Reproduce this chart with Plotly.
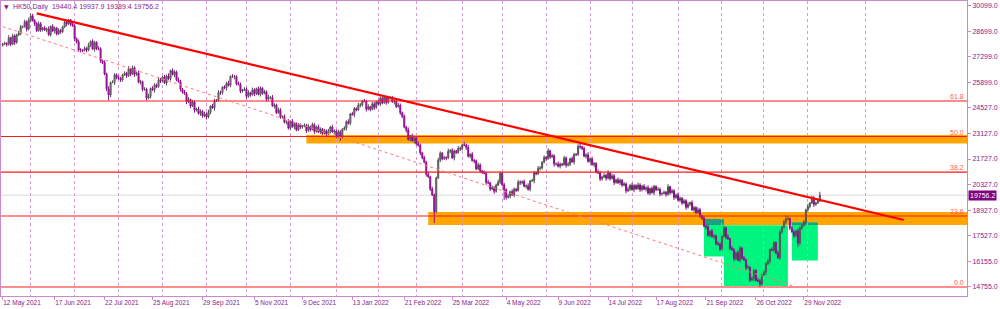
import pandas as pd
import plotly.graph_objects as go

# ---------------- data ----------------
first_day = "2021-05-12"
holidays = ["2021-10-01", "2022-02-01", "2022-04-15"]

bar_open = [
    27950, 28010, 28030, 27990, 28350, 28000, 28450, 28100, 28500, 28600,
    28950, 28960, 29220, 28820, 29300, 29540, 29280, 29130, 28740, 29110,
    28790, 28880, 28780, 28830, 28520, 28970, 28720, 28870, 28560, 28740,
    28690, 28940, 29200, 29110, 29330, 29090, 29000, 28300, 28120, 27680,
    27670, 27660, 27770, 27680, 27940, 28150, 27730, 28090, 27750, 27730,
    27090, 27000, 26360, 25560, 25220, 25910, 25910, 26330, 26160, 26120,
    26050, 26320, 26410, 26280, 26660, 26360, 26710, 26350, 26430, 25920,
    25950, 25520, 25540, 25060, 25150, 25580, 25500, 25780, 25680, 26060,
    26000, 26210, 25880, 26260, 26120, 26560, 26340, 26490, 26050, 25950,
    25540, 25390, 25300, 24850, 24980, 24620, 24840, 24400, 24460, 24210,
    24340, 24070, 24200, 24020, 24280, 24620, 24520, 24930, 24920, 25360,
    25350, 25650, 25600, 25860, 25750, 26240, 26220, 26230, 25830, 25800,
    25440, 25500, 25540, 25150, 25350, 25240, 25510, 25300, 25560, 25260,
    25600, 25320, 25400, 24990, 25100, 25100, 24630, 24680, 24260, 24410,
    24040, 24050, 23740, 23760, 23410, 23790, 23490, 23660, 23320, 23570,
    23480, 23520, 23570, 23280, 23490, 23340, 23600, 23240, 23480, 23210,
    23360, 23120, 23270, 23090, 23240, 23480, 23210, 23260, 22950, 23210,
    22940, 23350, 23410, 23760, 23680, 24190, 24150, 24480, 24410, 24670,
    24680, 24900, 24880, 24450, 24580, 24440, 24740, 24550, 24850, 24730,
    25050, 24800, 25100, 24820, 25080, 25090, 24850, 24900, 24590, 24660,
    24260, 24050, 23470, 23310, 22800, 22990, 22730, 22880, 22560, 22470,
    22060, 21800, 21550, 20900, 20760, 20090, 19760, 18850, 20700, 21670,
    22050, 21740, 21800, 21790, 22150, 22200, 21790, 22160, 22080, 22310,
    22290, 22500, 22490, 22360, 21880, 21990, 21640, 21630, 21190, 21400,
    21080, 21000, 20950, 20450, 20430, 20090, 20160, 19970, 20310, 20480,
    20950, 20320, 20050, 19640, 19690, 19950, 19770, 20080, 20010, 20460,
    20430, 20500, 20240, 20260, 20070, 20540, 20540, 20980, 20920, 21220,
    21240, 21550, 21820, 21750, 22180, 21840, 21900, 21450, 21460, 21330,
    21450, 21420, 21790, 21390, 21440, 21750, 21570, 21980, 21970, 22410,
    22400, 22300, 21880, 21960, 21600, 21740, 21420, 21480, 21030, 20970,
    20640, 20750, 20840, 20680, 20980, 20660, 20810, 20450, 20590, 20430,
    20570, 20300, 20370, 19990, 20080, 20300, 20050, 20280, 20110, 20310,
    20050, 20250, 20080, 20160, 19860, 20120, 19890, 20230, 20050, 20070,
    19820, 19850, 19910, 19800, 20220, 19890, 19990, 19630, 19770, 19480,
    19590, 19320, 19450, 19090, 19260, 19350, 18950, 19080, 18800, 18960,
    18630, 18500, 18060, 18010, 17560, 17790, 17490, 17530, 17100, 17070,
    16820, 17500, 17960, 17480, 17380, 16860, 16770, 16280, 16610, 16200,
    16870, 16320, 16220, 15790, 15820, 15120, 15200, 15640, 15110, 15070,
    14900, 15400, 15550, 16010, 16140, 16790, 16760, 17160, 16600, 16340,
    17740, 18000, 18290, 18450, 18480, 17960, 17750, 17550, 17800, 17140,
    17960, 18100, 18290, 18940, 19140, 19330, 19610, 19250, 19330, 19440.4,
]

bar_high = [
    28070, 28140, 28110, 28490, 28400, 28570, 28540, 28570, 28730, 29050,
    29020, 29330, 29300, 29440, 29680, 29660, 29370, 29200, 29240, 29210,
    28940, 28990, 28910, 28970, 29020, 29090, 28960, 28940, 28870, 28840,
    29000, 29310, 29280, 29380, 29380, 29210, 29090, 28370, 28250, 27780,
    27730, 27880, 27850, 28080, 28200, 28270, 28180, 28160, 27880, 27830,
    27150, 27110, 26440, 25700, 25960, 26030, 26420, 26400, 26290, 26220,
    26380, 26520, 26490, 26800, 26710, 26830, 26800, 26500, 26560, 26050,
    26010, 25650, 25620, 25290, 25630, 25700, 25870, 25850, 26190, 26160,
    26270, 26320, 26340, 26400, 26610, 26680, 26580, 26560, 26180, 26050,
    25600, 25500, 25380, 25120, 25030, 24960, 24930, 24530, 24590, 24440,
    24400, 24310, 24280, 24420, 24670, 24740, 25020, 25000, 25490, 25460,
    25710, 25760, 25940, 26000, 26290, 26360, 26320, 26300, 25960, 25900,
    25560, 25650, 25620, 25490, 25400, 25630, 25600, 25630, 25690, 25700,
    25660, 25510, 25480, 25240, 25150, 25220, 24770, 24750, 24540, 24510,
    24110, 24160, 23840, 23900, 23840, 23910, 23750, 23730, 23700, 23670,
    23580, 23680, 23650, 23630, 23540, 23720, 23690, 23550, 23610, 23460,
    23420, 23380, 23350, 23380, 23530, 23600, 23350, 23330, 23340, 23310,
    23410, 23520, 23840, 23900, 24240, 24310, 24570, 24550, 24800, 24780,
    24960, 25010, 24960, 24720, 24630, 24860, 24830, 24920, 24980, 25150,
    25110, 25160, 25150, 25150, 25140, 25170, 24990, 24970, 24790, 24760,
    24320, 24160, 23550, 23450, 23040, 23110, 22970, 22950, 22690, 22570,
    22120, 21910, 21630, 21040, 20810, 20210, 19850, 20770, 21800, 22150,
    22110, 21910, 21880, 22290, 22250, 22320, 22250, 22230, 22440, 22410,
    22560, 22650, 22570, 22500, 22040, 22110, 21730, 21700, 21530, 21500,
    21140, 21110, 21030, 20590, 20480, 20280, 20250, 20380, 20610, 21050,
    21010, 20430, 20130, 19830, 20000, 20070, 20170, 20150, 20590, 20560,
    20560, 20610, 20340, 20400, 20590, 20660, 21070, 21050, 21350, 21340,
    21610, 21930, 21900, 22320, 22230, 22020, 21990, 21530, 21590, 21550,
    21510, 21900, 21870, 21580, 21800, 21870, 22070, 22050, 22540, 22600,
    22460, 22410, 22040, 22100, 21790, 21860, 21570, 21550, 21160, 21070,
    20810, 20950, 20920, 21120, 21030, 20930, 20900, 20660, 20720, 20670,
    20630, 20480, 20450, 20220, 20350, 20420, 20370, 20350, 20440, 20410,
    20310, 20360, 20240, 20300, 20170, 20240, 20320, 20300, 20200, 20170,
    19910, 20020, 19990, 20360, 20270, 20110, 20080, 19840, 19900, 19690,
    19650, 19560, 19530, 19400, 19400, 19470, 19170, 19150, 19090, 19060,
    18690, 18610, 18140, 18150, 17840, 17910, 17620, 17600, 17230, 17170,
    17560, 18080, 18040, 17620, 17430, 16980, 16860, 16680, 16740, 16970,
    16930, 16430, 16300, 15960, 15870, 15320, 15730, 15710, 15240, 15170,
    15460, 15660, 16090, 16280, 16840, 16910, 17250, 17230, 16730, 17840,
    18060, 18400, 18650, 18620, 18530, 18080, 17840, 17870, 17930, 18060,
    18160, 18400, 19020, 19280, 19380, 19730, 19700, 19400, 19570, 19937.9,
]

bar_low = [
    27860, 27950, 27860, 27920, 27890, 27950, 27960, 28020, 28440, 28480,
    28860, 28900, 28690, 28750, 29190, 29230, 28990, 28660, 28680, 28670,
    28700, 28720, 28650, 28450, 28410, 28670, 28580, 28480, 28500, 28570,
    28600, 28880, 28980, 29040, 28980, 28950, 28160, 28040, 27620, 27550,
    27570, 27600, 27550, 27610, 27830, 27680, 27590, 27670, 27670, 26970,
    26910, 26300, 25430, 24950, 25110, 25860, 25770, 26080, 26060, 25930,
    25960, 26260, 26150, 26210, 26250, 26310, 26210, 26270, 25860, 25800,
    25430, 25460, 24930, 24990, 25040, 25450, 25360, 25600, 25620, 25880,
    25910, 25820, 25750, 26050, 26010, 26290, 26200, 25970, 25890, 25420,
    25300, 25240, 24720, 24780, 24510, 24570, 24260, 24320, 24150, 24090,
    23980, 24010, 23890, 23950, 24170, 24470, 24380, 24840, 24860, 25230,
    25260, 25540, 25470, 25680, 25640, 26170, 26080, 25750, 25740, 25320,
    25350, 25440, 25020, 25080, 25130, 25190, 25160, 25220, 25200, 25140,
    25230, 25260, 24860, 24920, 24990, 24580, 24490, 24180, 24200, 23920,
    23950, 23680, 23610, 23340, 23300, 23440, 23350, 23240, 23260, 23360,
    23390, 23460, 23150, 23210, 23230, 23290, 23100, 23160, 23150, 23090,
    23030, 23060, 22960, 23020, 23130, 23160, 23070, 22870, 22890, 22720,
    22850, 23290, 23280, 23610, 23570, 24100, 24010, 24330, 24350, 24550,
    24590, 24820, 24320, 24380, 24330, 24390, 24410, 24470, 24670, 24610,
    24710, 24740, 24690, 24750, 24970, 24800, 24710, 24510, 24530, 24140,
    23960, 23410, 23180, 22730, 22690, 22680, 22590, 22480, 22410, 21940,
    21710, 21490, 20770, 20690, 19980, 19710, 18230, 18770, 20640, 21550,
    21650, 21680, 21660, 21720, 22040, 21740, 21650, 22000, 22020, 22170,
    22200, 22430, 22230, 21810, 21770, 21590, 21490, 21110, 21130, 20960,
    20910, 20890, 20320, 20360, 19980, 20040, 19830, 19890, 20250, 20360,
    20230, 19500, 19510, 19570, 19580, 19720, 19630, 19930, 19950, 20310,
    20340, 20180, 20110, 20000, 19960, 20490, 20400, 20840, 20860, 21100,
    21150, 21490, 21620, 21680, 21730, 21790, 21310, 21370, 21270, 21210,
    21330, 21360, 21260, 21320, 21330, 21520, 21430, 21890, 21910, 22280,
    22210, 21820, 21750, 21530, 21490, 21370, 21280, 20950, 20910, 20520,
    20550, 20690, 20550, 20610, 20550, 20610, 20310, 20370, 20370, 20310,
    20210, 20240, 19860, 19920, 19970, 20000, 19910, 20030, 20050, 19930,
    19960, 20020, 19950, 19790, 19750, 19840, 19750, 19970, 19990, 19700,
    19730, 19790, 19670, 19730, 19780, 19840, 19490, 19550, 19420, 19360,
    19230, 19260, 18960, 19020, 19150, 18900, 18810, 18720, 18740, 18510,
    18410, 18000, 17880, 17490, 17450, 17440, 17350, 17020, 17010, 16700,
    16730, 17440, 17350, 17310, 16750, 16720, 16140, 16200, 16140, 16080,
    16230, 16160, 15660, 15720, 15010, 15070, 15060, 15030, 15010, 14740,
    14810, 15340, 15420, 15940, 16030, 16710, 16620, 16520, 16280, 16220,
    17650, 17940, 18160, 18380, 17850, 17700, 17410, 17470, 16900, 17020,
    17870, 18040, 18160, 18870, 19030, 19280, 19110, 19170, 19270, 19389.4,
]

bar_close = [
    28010, 28030, 27990, 28350, 28000, 28450, 28100, 28500, 28600, 28950,
    28960, 29220, 28820, 29300, 29540, 29280, 29130, 28740, 29110, 28790,
    28880, 28780, 28830, 28520, 28970, 28720, 28870, 28560, 28740, 28690,
    28940, 29200, 29110, 29330, 29090, 29000, 28300, 28120, 27680, 27670,
    27660, 27770, 27680, 27940, 28150, 27730, 28090, 27750, 27730, 27090,
    27000, 26360, 25560, 25220, 25910, 25910, 26330, 26160, 26120, 26050,
    26320, 26410, 26280, 26660, 26360, 26710, 26350, 26430, 25920, 25950,
    25520, 25540, 25060, 25150, 25580, 25500, 25780, 25680, 26060, 26000,
    26210, 25880, 26260, 26120, 26560, 26340, 26490, 26050, 25950, 25540,
    25390, 25300, 24850, 24980, 24620, 24840, 24400, 24460, 24210, 24340,
    24070, 24200, 24020, 24280, 24620, 24520, 24930, 24920, 25360, 25350,
    25650, 25600, 25860, 25750, 26240, 26220, 26230, 25830, 25800, 25440,
    25500, 25540, 25150, 25350, 25240, 25510, 25300, 25560, 25260, 25600,
    25320, 25400, 24990, 25100, 25100, 24630, 24680, 24260, 24410, 24040,
    24050, 23740, 23760, 23410, 23790, 23490, 23660, 23320, 23570, 23480,
    23520, 23570, 23280, 23490, 23340, 23600, 23240, 23480, 23210, 23360,
    23120, 23270, 23090, 23240, 23480, 23210, 23260, 22950, 23210, 22940,
    23350, 23410, 23760, 23680, 24190, 24150, 24480, 24410, 24670, 24680,
    24900, 24880, 24450, 24580, 24440, 24740, 24550, 24850, 24730, 25050,
    24800, 25100, 24820, 25080, 25090, 24850, 24900, 24590, 24660, 24260,
    24050, 23470, 23310, 22800, 22990, 22730, 22880, 22560, 22470, 22060,
    21800, 21550, 20900, 20760, 20090, 19760, 18850, 20700, 21670, 22050,
    21740, 21800, 21790, 22150, 22200, 21790, 22160, 22080, 22310, 22290,
    22500, 22490, 22360, 21880, 21990, 21640, 21630, 21190, 21400, 21080,
    21000, 20950, 20450, 20430, 20090, 20160, 19970, 20310, 20480, 20950,
    20320, 20050, 19640, 19690, 19950, 19770, 20080, 20010, 20460, 20430,
    20500, 20240, 20260, 20070, 20540, 20540, 20980, 20920, 21220, 21240,
    21550, 21820, 21750, 22180, 21840, 21900, 21450, 21460, 21330, 21450,
    21420, 21790, 21390, 21440, 21750, 21570, 21980, 21970, 22410, 22400,
    22300, 21880, 21960, 21600, 21740, 21420, 21480, 21030, 20970, 20640,
    20750, 20840, 20680, 20980, 20660, 20810, 20450, 20590, 20430, 20570,
    20300, 20370, 19990, 20080, 20300, 20050, 20280, 20110, 20310, 20050,
    20250, 20080, 20160, 19860, 20120, 19890, 20230, 20050, 20070, 19820,
    19850, 19910, 19800, 20220, 19890, 19990, 19630, 19770, 19480, 19590,
    19320, 19450, 19090, 19260, 19350, 18950, 19080, 18800, 18960, 18630,
    18500, 18060, 18010, 17560, 17790, 17490, 17530, 17100, 17070, 16820,
    17500, 17960, 17480, 17380, 16860, 16770, 16280, 16610, 16200, 16870,
    16320, 16220, 15790, 15820, 15120, 15200, 15640, 15110, 15070, 14900,
    15400, 15550, 16010, 16140, 16790, 16760, 17160, 16600, 16340, 17740,
    18000, 18290, 18450, 18480, 17960, 17750, 17550, 17800, 17140, 17960,
    18100, 18290, 18940, 19140, 19330, 19610, 19250, 19330, 19440, 19756.2,
]

date_labels = ["12 May 2021", "17 Jun 2021", "22 Jul 2021", "25 Aug 2021",
               "29 Sep 2021", "5 Nov 2021", "9 Dec 2021", "13 Jan 2022",
               "21 Feb 2022", "25 Mar 2022", "4 May 2022", "9 Jun 2022",
               "14 Jul 2022", "17 Aug 2022", "21 Sep 2022", "26 Oct 2022",
               "29 Nov 2022"]
price_ticks = [30099, 28699, 27299, 25899, 24527, 23127, 21727,
               20327, 18927, 17527, 16155, 14755]

fib_low, fib_high = 14740, 31173
fib_levels = [0.0, 23.6, 38.2, 50.0, 61.8]

# (start date, top price, bottom price) - open to the right
orange_zones = [("2021-12-13", 23039, 22575), ("2022-03-09", 18835, 18125)]
# (start date, end date, top price, bottom price)
green_zones = [("2022-09-20", "2022-10-04", 18453, 16406),
               ("2022-10-04", "2022-11-17", 18110, 14795),
               ("2022-11-21", "2022-12-08", 18262, 16184)]
trend_main = [("2021-06-04", 29684), ("2023-01-20", 18398)]
trend_dotted = [("2021-05-12", 28960), ("2022-11-23", 14740)]

# ---------------- layout helpers ----------------
n = len(bar_close)
bar_dates = pd.bdate_range(first_day, periods=n, freq="C", holidays=holidays)
last_day = bar_dates[-1]
xs = list(range(n))


def bar_pos(day):
    d = pd.Timestamp(day)
    if d > last_day:
        return n - 1 + (d - last_day).days
    return int(bar_dates.searchsorted(d))


month_lines = [i for i in range(1, n) if bar_dates[i].month != bar_dates[i - 1].month]
future = pd.date_range(last_day + pd.Timedelta(days=1), "2023-01-31")
month_lines += [bar_pos(d) for d in future if d.day == 1]

label_pos = [bar_pos(pd.to_datetime(s, format="%d %b %Y")) for s in date_labels]

X_RANGE = [-0.85, 482.65]
Y_RANGE = [14249, 30356]
PURPLE = "#8B1A8B"
AXIS = "#C98BC9"
FONT = "Liberation Sans, Arial, sans-serif"

fig = go.Figure()
fig.add_trace(go.Candlestick(
    x=xs, open=bar_open, high=bar_high, low=bar_low, close=bar_close,
    increasing=dict(line=dict(color="#505050", width=1), fillcolor="#ababab"),
    decreasing=dict(line=dict(color="#8e0a8e", width=1), fillcolor="#a42aa4"),
    whiskerwidth=0, showlegend=False, hoverinfo="skip"))
fig.add_trace(go.Scatter(x=[], y=[], xaxis="x2", yaxis="y", showlegend=False))

shapes = []
orange_rects = []
for start, top, bottom in orange_zones:
    r = (bar_pos(start), X_RANGE[1], bottom, top)
    orange_rects.append(r)
    shapes.append(dict(type="rect", xref="x", yref="y", x0=r[0], x1=r[1], y0=r[2], y1=r[3],
                       fillcolor="#FFA500", line=dict(width=0), layer="below"))
green_rects = []
for start, end, top, bottom in green_zones:
    r = (bar_pos(start), bar_pos(end), bottom, top)
    green_rects.append(r)
    shapes.append(dict(type="rect", xref="x", yref="y", x0=r[0], x1=r[1], y0=r[2], y1=r[3],
                       fillcolor="#00F57F", line=dict(width=0), layer="below"))
for g in green_rects:
    for o in orange_rects:
        ox0, ox1 = max(g[0], o[0]), min(g[1], o[1])
        oy0, oy1 = max(g[2], o[2]), min(g[3], o[3])
        if ox1 > ox0 and oy1 > oy0:
            shapes.append(dict(type="rect", xref="x", yref="y", x0=ox0, x1=ox1, y0=oy0, y1=oy1,
                               fillcolor="#1E9E86", line=dict(width=0), layer="below"))

bid = bar_close[-1]
shapes.append(dict(type="line", xref="x", yref="y", x0=X_RANGE[0], x1=X_RANGE[1], y0=bid, y1=bid,
                   line=dict(color="#D9D9D9", width=1), layer="below"))

annotations = []
for lvl in fib_levels:
    p = fib_low + (fib_high - fib_low) * lvl / 100.0
    shapes.append(dict(type="line", xref="x", yref="y", x0=X_RANGE[0], x1=X_RANGE[1], y0=p, y1=p,
                       line=dict(color="#FF1A1A", width=1.2), layer="above"))
    annotations.append(dict(x=1, xref="paper", y=p, yref="y", text=f"{lvl:.1f}",
                            xanchor="right", yanchor="bottom", xshift=-1, yshift=-1,
                            showarrow=False, font=dict(size=7, color="#FF5A5A", family=FONT)))

(d0, p0), (d1, p1) = trend_dotted
shapes.append(dict(type="line", xref="x", yref="y", x0=bar_pos(d0), y0=p0, x1=bar_pos(d1), y1=p1,
                   line=dict(color="#FF7A7A", width=1, dash="dot"), layer="above"))
(d0, p0), (d1, p1) = trend_main
shapes.append(dict(type="line", xref="x", yref="y", x0=bar_pos(d0), y0=p0, x1=bar_pos(d1), y1=p1,
                   line=dict(color="#FF0000", width=2.2), layer="above"))

title = (f"HK50,Daily  {bar_open[-1]:.1f} {bar_high[-1]:.1f} "
         f"{bar_low[-1]:.1f} {bar_close[-1]:.1f}")
annotations.append(dict(x=0, xref="paper", y=1, yref="paper", text=title, xanchor="left",
                        yanchor="top", xshift=10, yshift=0, showarrow=False,
                        font=dict(size=7, color=PURPLE, family=FONT)))
annotations.append(dict(x=0, xref="paper", y=1, yref="paper", text="▼", xanchor="left",
                        yanchor="top", xshift=1, yshift=0, showarrow=False,
                        font=dict(size=6, color=PURPLE, family="DejaVu Sans")))
annotations.append(dict(x=1, xref="paper", y=bid, yref="y", text=f"{bid:.1f}", xanchor="left",
                        yanchor="middle", xshift=1, showarrow=False, bgcolor="#800080",
                        borderpad=1, font=dict(size=7, color="white", family=FONT)))

fig.update_layout(
    width=1000, height=309, autosize=False,
    margin=dict(l=1, r=33, t=1, b=13),
    paper_bgcolor="white", plot_bgcolor="white",
    showlegend=False,
    shapes=shapes, annotations=annotations,
    xaxis=dict(range=X_RANGE, type="linear", tickmode="array", tickvals=month_lines,
               showticklabels=False, ticks="", showgrid=True, gridcolor="#D49AD4",
               griddash="dot", gridwidth=1, zeroline=False, showline=True, mirror=True,
               linecolor=AXIS, linewidth=1, rangeslider=dict(visible=False), fixedrange=True),
    xaxis2=dict(range=X_RANGE, type="linear", overlaying="x", anchor="y", side="bottom",
                tickmode="array", tickvals=label_pos, ticktext=date_labels,
                ticks="outside", ticklen=3, tickcolor=AXIS, showgrid=False, zeroline=False,
                showline=False, ticklabelposition="outside right",
                tickfont=dict(size=6.5, color=PURPLE, family=FONT)),
    yaxis=dict(range=Y_RANGE, side="right", tickmode="array", tickvals=price_ticks,
               ticktext=[f"{v:.1f}" for v in price_ticks], ticks="outside", ticklen=3,
               tickcolor=AXIS, showgrid=False, zeroline=False, showline=True, mirror=True,
               linecolor=AXIS, linewidth=1, tickfont=dict(size=7, color=PURPLE, family=FONT)),
)

fig.write_html("out.html", config={"displayModeBar": False})
